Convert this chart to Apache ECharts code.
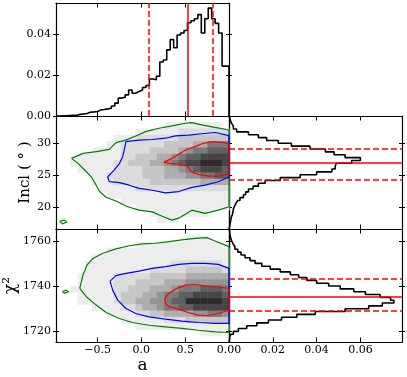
<!DOCTYPE html>
<html>
<head>
<meta charset="utf-8">
<script src="https://cdn.jsdelivr.net/npm/echarts@6/dist/echarts.min.js"></script>
<style>
  html, body { margin: 0; padding: 0; background: #fff; }
  #main { width: 407px; height: 377px; }
</style>
</head>
<body>
<div id="main"></div>
<script>
// ---- axis ranges and ticks ----
const aRange = [-0.974, 1.0];
const inclRange = [16.5, 34.3];
const chiRange = [1715.3, 1765.2];
const densRange = [0, 0.0555];
const margRange = [0, 0.079];

const aTicks = [-0.5, 0, 0.5, 1.0];
const aLabels = [-0.5, 0, 0.5];
const inclTicks = [20, 25, 30];
const chiTicks = [1720, 1740, 1760];
const densTicks = [0, 0.02, 0.04];
const margTicks = [0, 0.02, 0.04, 0.06];

// ---- marginal histograms ----
const aBinStart = -0.974, aBinWidth = 0.03948;
const aHist = [
  0.0000, 0.0001, 0.0001, 0.0002, 0.0003, 0.0004, 0.0008, 0.0010, 0.0012, 0.0019,
  0.0020, 0.0022, 0.0030, 0.0032, 0.0035, 0.0038, 0.0049, 0.0063, 0.0088, 0.0092,
  0.0104, 0.0128, 0.0112, 0.0120, 0.0128, 0.0140, 0.0150, 0.0182, 0.0178, 0.0195,
  0.0265, 0.0275, 0.0325, 0.0375, 0.0335, 0.0398, 0.0408, 0.0420, 0.0458, 0.0468,
  0.0478, 0.0498, 0.0408, 0.0478, 0.0530, 0.0478, 0.0455, 0.0408, 0.0245, 0.0245
];
const inclBinStart = 16.5, inclBinWidth = 0.45;
const inclHist = [
  0.0003, 0.0005, 0.0008, 0.0010, 0.0015, 0.0018, 0.0020, 0.0025, 0.0032, 0.0040,
  0.0050, 0.0066, 0.0076, 0.0089, 0.0110, 0.0134, 0.0165, 0.0234, 0.0325, 0.0400,
  0.0470, 0.0485, 0.0490, 0.0560, 0.0600, 0.0530, 0.0480, 0.0440, 0.0370, 0.0285,
  0.0225, 0.0172, 0.0134, 0.0089, 0.0035, 0.0020, 0.0012, 0.0006, 0.0003, 0.0001
];
const chiBinStart = 1715, chiBinWidth = 1.25;
const chiHist = [
  0.0002, 0.0003, 0.0009, 0.0020, 0.0043, 0.0081, 0.0127, 0.0180, 0.0240, 0.0310,
  0.0394, 0.0530, 0.0638, 0.0700, 0.0753, 0.0738, 0.0690, 0.0623, 0.0570, 0.0508,
  0.0455, 0.0400, 0.0356, 0.0318, 0.0280, 0.0234, 0.0188, 0.0150, 0.0119, 0.0096,
  0.0073, 0.0055, 0.0040, 0.0027, 0.0018, 0.0012, 0.0008, 0.0005, 0.0003, 0.0002
];

// median and 1-sigma bounds (red lines)
const aLines = [0.087, 0.53, 0.81];
const inclLines = [24.2, 26.94, 29.2];
const chiLines = [1728.9, 1735.3, 1743.4];

// ---- 2D density grids (digit = darkness 0..9), rows from top to bottom ----
const densCols = 24;
const inclDens = [
  "000000000000000000000000",
  "000000000000000111111110",
  "000000000001111112222222",
  "000000001112222223333333",
  "000000011222222333344666",
  "000001111222233334566777",
  "000111111223334456778888",
  "001111112233344567889998",
  "000111112222333445678887",
  "000001122222333444556677",
  "000001112222233333334444",
  "000000111112222222222222",
  "000000011111111111111111",
  "000000000111111111111111",
  "000000000001111111111111",
  "000000000000011111111000",
  "000000000000001110000000",
  "000000000000000000000000"
];
const chiDens = [
  "000000000000000000000000",
  "000000000000000000111000",
  "000000000001111111111110",
  "000000011111111111111111",
  "000001111111111111111111",
  "000011111111111122222221",
  "000011111111122222333332",
  "000111112222233333444444",
  "000111112223333444555555",
  "001111112233344456667776",
  "000111112333445667788887",
  "000111112334455677999998",
  "000001111223445667788888",
  "000000011112233444455665",
  "000000000111111222333333",
  "000000000001111111111111",
  "000000000000000000001110",
  "000000000000000000000000"
];
const grays = ['#ffffff', '#ededed', '#dcdcdc', '#c6c6c6', '#adadad',
               '#949494', '#7a7a7a', '#606060', '#464646', '#2c2c2c'];

// ---- contours [a, y] ----
const inclGreen = [[-0.797,27.63],[-0.666,28.42],[-0.515,28.68],[-0.365,29.05],[-0.289,30.1],
  [-0.176,30.5],[-0.064,31.16],[0.049,31.84],[0.20,32.37],[0.35,32.74],[0.50,33.16],[0.576,33.26],
  [0.689,32.9],[0.84,32.5],[1.0,32.1],[1.0,20.0],[0.877,19.47],[0.727,18.95],[0.576,19.47],
  [0.44,18.3],[0.35,17.9],[0.237,18.5],[0.125,19.2],[-0.026,19.47],[-0.157,20.0],[-0.27,20.8],
  [-0.402,21.5],[-0.477,22.4],[-0.515,23.4],[-0.57,24.7],[-0.647,25.8],[-0.72,26.8],[-0.797,27.63]];
const inclBlue = [[-0.176,30.26],[-0.026,30.5],[0.125,30.6],[0.275,30.8],[0.388,31.16],[0.538,31.3],
  [0.689,31.5],[0.84,31.7],[1.0,31.2],[1.0,24.7],[0.877,23.95],[0.727,23.4],[0.576,23.05],
  [0.426,22.4],[0.275,22.2],[0.125,22.6],[-0.026,22.9],[-0.139,23.4],[-0.25,23.8],[-0.365,23.95],
  [-0.384,24.7],[-0.308,25.8],[-0.25,26.8],[-0.214,27.9],[-0.195,28.95],[-0.176,30.26]];
const inclRed = [[0.256,27.0],[0.35,27.63],[0.444,28.42],[0.52,29.05],[0.614,29.47],[0.708,30.0],
  [0.82,30.26],[0.915,30.16],[1.0,29.9],[1.0,25.16],[0.877,24.84],[0.764,24.84],[0.651,25.1],
  [0.568,25.5],[0.53,26.4],[0.444,26.7],[0.331,26.84],[0.256,27.0]];
const inclIsle = [[-0.93,17.7],[-0.88,17.9],[-0.85,17.6],[-0.9,17.3],[-0.93,17.7]];

const chiGreen = [[-0.703,1739.0],[-0.666,1744.9],[-0.62,1749.3],[-0.553,1752.2],[-0.44,1754.5],
  [-0.29,1756.4],[-0.139,1757.8],[0.012,1758.6],[0.162,1758.9],[0.313,1759.6],[0.463,1760.4],
  [0.614,1761.1],[0.746,1761.4],[0.84,1759.9],[1.0,1757.4],[1.0,1719.5],[0.84,1719.8],
  [0.651,1720.5],[0.463,1721.3],[0.275,1722.0],[0.087,1722.7],[-0.101,1723.9],[-0.252,1725.7],
  [-0.402,1728.3],[-0.515,1731.6],[-0.628,1735.3],[-0.703,1739.0]];
const chiBlue = [[-0.357,1742.2],[-0.29,1744.6],[-0.176,1745.6],[-0.026,1746.6],[0.125,1747.8],
  [0.275,1748.6],[0.426,1749.6],[0.576,1750.0],[0.727,1750.0],[0.877,1749.6],[1.0,1747.8],
  [1.0,1723.5],[0.84,1723.5],[0.651,1723.9],[0.463,1724.5],[0.275,1725.4],[0.087,1726.4],
  [-0.064,1727.9],[-0.176,1730.1],[-0.27,1733.8],[-0.327,1738.2],[-0.357,1742.2]];
const chiRed = [[0.267,1734.5],[0.313,1736.8],[0.407,1739.0],[0.50,1740.4],[0.614,1740.7],
  [0.727,1740.1],[0.84,1739.7],[1.0,1739.0],[1.0,1729.4],[0.877,1727.9],[0.764,1726.9],
  [0.651,1727.2],[0.538,1728.3],[0.426,1729.8],[0.313,1730.9],[0.275,1732.3],[0.267,1734.5]];
const chiIsle = [[-0.9,1737.6],[-0.86,1738.2],[-0.83,1737.4],[-0.88,1736.9],[-0.9,1737.6]];

const FONT = 'DejaVu Serif';
const grids = [
  { left: 56, top: 3, width: 173, height: 113 },    // a histogram
  { left: 56, top: 116, width: 173, height: 113 },  // a vs Incl
  { left: 56, top: 229, width: 173, height: 113 },  // a vs chi2
  { left: 229, top: 116, width: 173, height: 113 }, // Incl histogram
  { left: 229, top: 229, width: 173, height: 113 }  // chi2 histogram
];

let xAxes = [], yAxes = [];
// ticks on all four sides: x ticks point inward, y ticks cross the frame (in + out)
function addAxes(dim, grid, range, ticks, labels, fmt, name) {
  const list = dim === 'x' ? xAxes : yAxes;
  const sides = dim === 'x' ? ['bottom', 'top'] : ['left', 'right'];
  const idx = list.length;
  sides.forEach((pos, s) => {
    [false, true].forEach(inside => {
      const main = s === 0 && !inside;
      const ax = {
        type: 'value', gridIndex: grid, position: pos, min: range[0], max: range[1],
        axisLine: { show: !inside, onZero: false, lineStyle: { color: '#000', width: 1.2 } },
        axisTick: { show: inside || dim === 'y', inside: inside, length: dim === 'x' ? 4.5 : 3,
                    customValues: ticks, lineStyle: { color: '#000', width: 1 } },
        axisLabel: { show: main && !!labels, customValues: labels || ticks, formatter: fmt,
                     margin: dim === 'x' ? 3 : 5, color: '#000', fontFamily: FONT, fontSize: 11 },
        splitLine: { show: false }
      };
      if (main && name) Object.assign(ax, name);
      list.push(ax);
    });
  });
  return idx;
}
const f2 = v => v.toFixed(2);
const fa = v => (v < 0 ? '\u2212' : '') + Math.abs(v).toFixed(1);
const fi = v => String(v);
const nameStyle = { fontFamily: FONT, fontSize: 15, color: '#000' };

const x0 = addAxes('x', 0, aRange, aTicks, null, fa);
const y0 = addAxes('y', 0, densRange, densTicks, densTicks, f2);
const x1 = addAxes('x', 1, aRange, aTicks, null, fa);
const y1 = addAxes('y', 1, inclRange, inclTicks, inclTicks, fi,
  { name: 'Incl ( \u00b0 )', nameLocation: 'middle', nameGap: 19, nameTextStyle: nameStyle });
const x2 = addAxes('x', 2, aRange, aTicks, aLabels, fa,
  { name: 'a', nameLocation: 'middle', nameGap: 13, nameTextStyle: Object.assign({}, nameStyle, { fontSize: 17 }) });
const y2 = addAxes('y', 2, chiRange, chiTicks, chiTicks, fi,
  { name: '\u03c7\u00b2', nameLocation: 'middle', nameGap: 33, nameTextStyle: Object.assign({}, nameStyle, { fontSize: 17 }) });
const x3 = addAxes('x', 3, margRange, margTicks, null, f2);
const y3 = addAxes('y', 3, inclRange, inclTicks, null, fi);
const x4 = addAxes('x', 4, margRange, margTicks, margTicks, f2);
const y4 = addAxes('y', 4, chiRange, chiTicks, null, fi);

// step outline of a histogram; horizontal = bins along y
function stepPoints(start, width, vals, horizontal) {
  const pts = [];
  const P = (b, v) => horizontal ? [v, b] : [b, v];
  pts.push(P(start, 0));
  vals.forEach((v, i) => {
    pts.push(P(start + i * width, v));
    pts.push(P(start + (i + 1) * width, v));
  });
  pts.push(P(start + vals.length * width, 0));
  return pts;
}

function redMarks(key, vals) {
  return {
    symbol: ['none', 'none'], silent: true, label: { show: false },
    lineStyle: { color: '#ff0000', width: 1.5 },
    data: vals.map((v, i) => ({ [key]: v, lineStyle: { type: i === 1 ? 'solid' : [6, 3] } }))
  };
}

function histSeries(xi, yi, pts, marks) {
  return {
    type: 'line', xAxisIndex: xi, yAxisIndex: yi, data: pts, showSymbol: false,
    lineStyle: { color: '#000', width: 1.6 }, clip: true, z: 3, markLine: marks
  };
}

function densCells(rows, yRange) {
  const cells = [];
  const nr = rows.length;
  const cw = (aRange[1] - aRange[0]) / densCols;
  const rh = (yRange[1] - yRange[0]) / nr;
  rows.forEach((row, r) => {
    const yTop = yRange[1] - r * rh;
    for (let j = 0; j < densCols; j++) {
      const v = +row[j];
      if (v > 0) cells.push([aRange[0] + j * cw, yTop - rh, aRange[0] + (j + 1) * cw, yTop, v]);
    }
  });
  return cells;
}

function densSeries(xi, yi, cells) {
  return {
    type: 'custom', xAxisIndex: xi, yAxisIndex: yi, data: cells, z: 1, silent: true,
    encode: { x: [0, 2], y: [1, 3] },
    renderItem: (params, api) => {
      const p0 = api.coord([api.value(0), api.value(3)]);
      const p1 = api.coord([api.value(2), api.value(1)]);
      return {
        type: 'rect',
        shape: { x: p0[0], y: p0[1], width: p1[0] - p0[0] + 0.5, height: p1[1] - p0[1] + 0.5 },
        style: { fill: grays[api.value(4)] }
      };
    }
  };
}

function contour(xi, yi, pts, color) {
  return {
    type: 'line', xAxisIndex: xi, yAxisIndex: yi, data: pts, showSymbol: false, silent: true,
    lineStyle: { color: color, width: 1.2 }, clip: true, z: 2
  };
}

const GREEN = '#008000', BLUE = '#0000ff', RED = '#ff0000';

const option = {
  animation: false,
  backgroundColor: '#fff',
  grid: grids.map(g => Object.assign({ outerBoundsMode: 'none' }, g)),
  xAxis: xAxes,
  yAxis: yAxes,
  series: [
    histSeries(x0, y0, stepPoints(aBinStart, aBinWidth, aHist, false), redMarks('xAxis', aLines)),
    densSeries(x1, y1, densCells(inclDens, inclRange)),
    contour(x1, y1, inclGreen, GREEN),
    contour(x1, y1, inclIsle, GREEN),
    contour(x1, y1, inclBlue, BLUE),
    contour(x1, y1, inclRed, RED),
    densSeries(x2, y2, densCells(chiDens, chiRange)),
    contour(x2, y2, chiGreen, GREEN),
    contour(x2, y2, chiIsle, GREEN),
    contour(x2, y2, chiBlue, BLUE),
    contour(x2, y2, chiRed, RED),
    histSeries(x3, y3, stepPoints(inclBinStart, inclBinWidth, inclHist, true), redMarks('yAxis', inclLines)),
    histSeries(x4, y4, stepPoints(chiBinStart, chiBinWidth, chiHist, true), redMarks('yAxis', chiLines))
  ]
};

const chart = echarts.init(document.getElementById('main'));
chart.setOption(option);
</script>
</body>
</html>
